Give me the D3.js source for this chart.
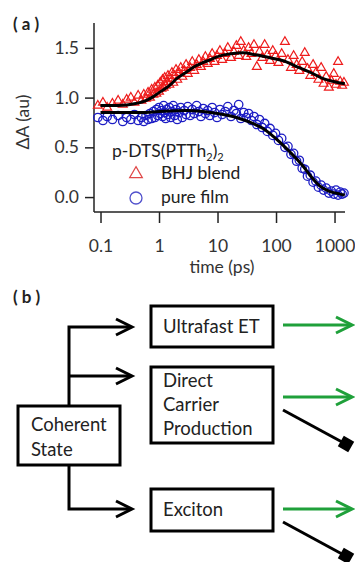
<!DOCTYPE html>
<html>
<head>
<meta charset="utf-8">
<script src="https://cdn.jsdelivr.net/npm/d3@7"></script>
<style>
  body { margin: 0; background: #fff; }
  svg { display: block; font-family: Lato, "Open Sans", sans-serif; }
</style>
</head>
<body>
<svg id="chart" width="355" height="562"></svg>
<script>
// panel (a) data: [time (ps), dA]
let blendPoints = [
  [0.09, 0.92], [0.11, 0.95], [0.13, 0.90], [0.16, 0.94], [0.2, 0.97], [0.24, 0.93],
  [0.28, 0.98], [0.33, 1.00], [0.38, 0.95], [0.44, 1.02], [0.5, 0.97], [0.55, 1.03],
  [0.6, 0.99], [0.65, 1.05], [0.7, 1.00], [0.75, 1.08], [0.8, 1.03], [0.85, 1.10],
  [0.9, 1.04], [0.95, 1.12], [1.0, 1.06], [1.05, 1.15], [1.1, 1.09], [1.15, 1.18],
  [1.2, 1.10], [1.25, 1.20], [1.3, 1.12], [1.36, 1.16], [1.42, 1.22], [1.5, 1.13],
  [1.58, 1.19], [1.66, 1.25], [1.75, 1.15], [1.85, 1.22], [1.95, 1.28], [2.05, 1.18],
  [2.2, 1.25], [2.35, 1.30], [2.5, 1.21], [2.7, 1.27], [2.9, 1.33], [3.1, 1.24],
  [3.4, 1.30], [3.7, 1.36], [4.0, 1.27], [4.4, 1.33], [4.8, 1.38], [5.2, 1.31],
  [5.7, 1.36], [6.2, 1.41], [6.8, 1.34], [7.4, 1.39], [8.1, 1.44], [8.9, 1.36],
  [9.8, 1.42], [11, 1.47], [12, 1.38], [13.5, 1.44], [15, 1.50], [17, 1.40],
  [19, 1.46], [21, 1.52], [23, 1.42], [25, 1.56], [28, 1.47], [31, 1.41],
  [34, 1.50], [38, 1.44], [42, 1.53], [47, 1.31], [52, 1.46], [58, 1.40],
  [64, 1.53], [71, 1.43], [79, 1.37], [88, 1.47], [98, 1.42], [110, 1.35],
  [125, 1.44], [142, 1.56], [160, 1.38], [180, 1.30], [200, 1.42], [225, 1.33],
  [250, 1.27], [280, 1.36], [310, 1.45], [345, 1.29], [385, 1.22], [430, 1.33],
  [480, 1.25], [530, 1.18], [590, 1.30], [650, 1.14], [720, 1.21], [800, 1.10],
  [880, 1.17], [970, 1.24], [1060, 1.13], [1150, 1.36], [1250, 1.16], [1350, 1.12],
  [1450, 1.15]
];
let filmPoints = [
  [0.09, 0.80], [0.11, 0.77], [0.13, 0.81], [0.16, 0.78], [0.2, 0.82], [0.24, 0.76],
  [0.28, 0.80], [0.33, 0.78], [0.38, 0.83], [0.44, 0.77], [0.5, 0.80], [0.55, 0.76],
  [0.6, 0.82], [0.65, 0.78], [0.7, 0.84], [0.75, 0.79], [0.8, 0.86], [0.85, 0.80],
  [0.9, 0.88], [0.95, 0.82], [1.0, 0.90], [1.05, 0.84], [1.1, 0.87], [1.15, 0.81],
  [1.2, 0.92], [1.25, 0.85], [1.3, 0.79], [1.36, 0.88], [1.42, 0.83], [1.5, 0.90],
  [1.58, 0.80], [1.66, 0.86], [1.75, 0.92], [1.85, 0.82], [1.95, 0.88], [2.05, 0.78],
  [2.2, 0.85], [2.35, 0.90], [2.5, 0.80], [2.7, 0.87], [2.9, 0.83], [3.1, 0.91],
  [3.4, 0.82], [3.7, 0.88], [4.0, 0.84], [4.4, 0.92], [4.8, 0.86], [5.2, 0.81],
  [5.7, 0.89], [6.2, 0.84], [6.8, 0.87], [7.4, 0.82], [8.1, 0.90], [8.9, 0.85],
  [9.8, 0.80], [11, 0.88], [12, 0.83], [13.5, 0.86], [15, 0.91], [17, 0.81],
  [19, 0.87], [21, 0.84], [23, 0.93], [25, 0.79], [28, 0.85], [31, 0.80],
  [34, 0.84], [38, 0.77], [42, 0.81], [47, 0.73], [52, 0.78], [58, 0.70],
  [64, 0.74], [71, 0.66], [79, 0.69], [88, 0.62], [98, 0.64], [110, 0.57],
  [125, 0.59], [142, 0.50], [160, 0.51], [180, 0.43], [200, 0.44], [225, 0.36],
  [250, 0.37], [280, 0.29], [310, 0.28], [345, 0.21], [385, 0.22], [430, 0.15],
  [480, 0.16], [530, 0.10], [590, 0.12], [650, 0.07], [720, 0.09], [800, 0.04],
  [880, 0.06], [970, 0.03], [1060, 0.07], [1150, 0.02], [1250, 0.05], [1350, 0.03],
  [1450, 0.04]
];
let blendFit = [
  [0.1, 0.92], [0.2, 0.92], [0.4, 0.94], [0.6, 0.97], [0.8, 1.01], [1, 1.05],
  [1.5, 1.12], [2, 1.19], [3, 1.26], [4, 1.31], [5.5, 1.35], [7.5, 1.38],
  [11, 1.42], [17, 1.44], [27, 1.45], [45, 1.43], [79, 1.40], [150, 1.36],
  [230, 1.31], [400, 1.25], [640, 1.19], [1000, 1.16], [1500, 1.14]
];
let filmFit = [
  [0.1, 0.85], [0.5, 0.85], [1, 0.86], [3, 0.87], [10, 0.84], [21, 0.80],
  [40, 0.74], [60, 0.69], [117, 0.55], [175, 0.45], [228, 0.38], [300, 0.30],
  [380, 0.22], [565, 0.11], [800, 0.06], [1240, 0.03], [1500, 0.02]
];
let timeTicks = [0.1, 1, 10, 100, 1000];
let timeTickLabels = ["0.1", "1", "10", "100", "1000"];
let dATicks = [0, 0.5, 1.0, 1.5];

// panel (b) labels
let leftBoxLines = ["Coherent", "State"];
let rightBoxLines = [["Ultrafast ET"], ["Direct", "Carrier", "Production"], ["Exciton"]];

let svg = d3.select("#chart");
let ink = "#222";

// ---------- panel (a) ----------
let x = d3.scaleLog().domain([0.0774, 1510]).range([94, 345]);
let y = d3.scaleLinear().domain([-0.15, 1.75]).range([212, 23]);

svg.append("text").attr("x", 13).attr("y", 30)
  .attr("font-size", 17).attr("font-weight", "bold").attr("fill", ink)
  .text("( a )");

let yAxis = svg.append("g").attr("transform", "translate(94,0)")
  .call(d3.axisLeft(y).tickValues(dATicks).tickFormat(d3.format(".1f"))
    .tickSize(9).tickPadding(6));
let xAxis = svg.append("g").attr("transform", "translate(0,212)")
  .call(d3.axisBottom(x).tickValues(timeTicks).tickFormat((d, i) => timeTickLabels[i])
    .tickSize(11).tickPadding(17));
[xAxis, yAxis].forEach((g) => {
  g.select(".domain").attr("stroke", ink).attr("stroke-width", 1.5);
  g.selectAll(".tick line").attr("stroke", ink).attr("stroke-width", 1.5);
  g.selectAll(".tick text").attr("font-size", 17.5).attr("fill", "#333")
    .attr("font-family", "Lato, sans-serif");
});
// drop the outer tick stubs d3 adds at the ends of the domain
yAxis.select(".domain").attr("d", "M0,23V212");
xAxis.select(".domain").attr("d", "M94,0H345");

svg.append("text").attr("x", 222).attr("y", 273).attr("text-anchor", "middle")
  .attr("font-size", 17.5).attr("fill", "#333").text("time (ps)");
svg.append("text").attr("transform", "translate(29,122) rotate(-90)")
  .attr("text-anchor", "middle").attr("font-size", 17.5).attr("fill", "#333")
  .text("ΔA (au)");

let tri = d3.symbol().type(d3.symbolTriangle).size(34);
svg.append("g").selectAll("path").data(blendPoints).join("path")
  .attr("d", tri)
  .attr("transform", (d) => `translate(${x(d[0])},${y(d[1])})`)
  .attr("fill", "none").attr("stroke", "#ee1c1c").attr("stroke-width", 1.2);
svg.append("g").selectAll("circle").data(filmPoints).join("circle")
  .attr("cx", (d) => x(d[0])).attr("cy", (d) => y(d[1])).attr("r", 4.2)
  .attr("fill", "none").attr("stroke", "#1c1cc4").attr("stroke-width", 1.3);

let fitLine = d3.line().x((d) => x(d[0])).y((d) => y(d[1])).curve(d3.curveMonotoneX);
[blendFit, filmFit].forEach((fit) => {
  svg.append("path").attr("d", fitLine(fit))
    .attr("fill", "none").attr("stroke", "#000").attr("stroke-width", 3);
});

// legend
let legend = svg.append("g").attr("font-size", 17.5).attr("fill", ink);
let title = legend.append("text").attr("x", 112).attr("y", 157);
title.append("tspan").text("p-DTS(PTTh");
title.append("tspan").attr("font-size", 11).attr("dy", 4).text("2");
title.append("tspan").attr("dy", -4).text(")");
title.append("tspan").attr("font-size", 11).attr("dy", 4).text("2");
legend.append("path").attr("d", d3.symbol().type(d3.symbolTriangle).size(70))
  .attr("transform", "translate(136,174)")
  .attr("fill", "none").attr("stroke", "#e04848").attr("stroke-width", 1.2);
legend.append("text").attr("x", 161).attr("y", 179).text("BHJ blend");
legend.append("circle").attr("cx", 136).attr("cy", 198).attr("r", 6)
  .attr("fill", "none").attr("stroke", "#5050cc").attr("stroke-width", 1.3);
legend.append("text").attr("x", 161).attr("y", 203).text("pure film");

// ---------- panel (b) ----------
svg.append("text").attr("x", 13).attr("y", 303)
  .attr("font-size", 17).attr("font-weight", "bold").attr("fill", ink)
  .text("( b )");

let diag = svg.append("g").attr("stroke", "#000").attr("stroke-width", 3).attr("fill", "none");
let boxText = svg.append("g").attr("font-size", 18.5).attr("fill", ink);

// left box
diag.append("rect").attr("x", 18).attr("y", 406).attr("width", 102).attr("height", 59);
leftBoxLines.forEach((t, i) => {
  boxText.append("text").attr("x", 31).attr("y", 431 + i * 25).text(t);
});

// right boxes: top, height
let boxFrames = [[306, 41], [367, 76], [489, 42]];
let arrowYs = [327, 376, 509];
boxFrames.forEach((f, i) => {
  diag.append("rect").attr("x", 151).attr("y", f[0]).attr("width", 122).attr("height", f[1]);
  let lines = rightBoxLines[i];
  let lineH = 24;
  let top = f[0] + f[1] / 2 - ((lines.length - 1) * lineH) / 2 + 6;
  lines.forEach((t, j) => {
    boxText.append("text").attr("x", 163).attr("y", top + j * lineH).text(t);
  });
});

// branches from the coherent state
diag.append("path").attr("d", `M69,406V${arrowYs[0]}H130M69,${arrowYs[1]}H130M69,465V${arrowYs[2]}H130`);
let chevron = (g, tipX, cy, color) => {
  g.append("path").attr("d", `M${tipX - 16},${cy - 8}L${tipX},${cy}L${tipX - 16},${cy + 8}`)
    .attr("stroke", color).attr("fill", "none");
};
arrowYs.forEach((ay) => chevron(diag, 132, ay, "#000"));

// green outgoing arrows
let greenYs = [325, 397, 509];
let green = "#1fa03a";
greenYs.forEach((gy) => {
  diag.append("path").attr("d", `M283,${gy}H351`).attr("stroke", green);
  chevron(diag, 352, gy, green);
});

// decay lines ending in squares
let decayStarts = [410, 522];
decayStarts.forEach((sy) => {
  diag.append("path").attr("d", `M283,${sy}L342,${sy + 32}`);
  diag.append("rect").attr("x", -6).attr("y", -6).attr("width", 12).attr("height", 12)
    .attr("transform", `translate(346,${sy + 34}) rotate(30)`)
    .attr("fill", "#000").attr("stroke", "none");
});
</script>
</body>
</html>
